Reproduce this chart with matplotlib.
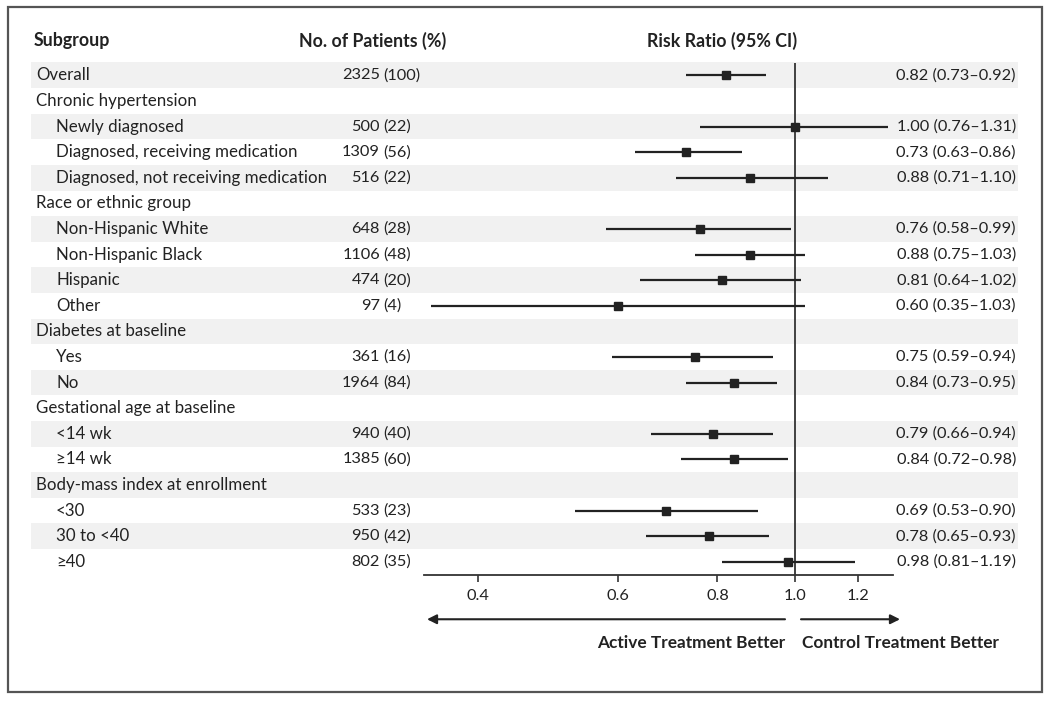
import numpy as np
import matplotlib as mpl
mpl.use("Agg")
import matplotlib.pyplot as plt
import matplotlib.transforms as transforms
from matplotlib.patches import Rectangle

plt.rcParams['font.family'] = ['Lato', 'DejaVu Sans']

# data
labels = ["Overall", "Chronic hypertension", "Newly diagnosed", "Diagnosed, receiving medication",
          "Diagnosed, not receiving medication", "Race or ethnic group", "Non-Hispanic White",
          "Non-Hispanic Black", "Hispanic", "Other", "Diabetes at baseline", "Yes", "No",
          "Gestational age at baseline", "<14 wk", "\u226514 wk", "Body-mass index at enrollment",
          "<30", "30 to <40", "\u226540"]
indent = [0, 0, 1, 1, 1, 0, 1, 1, 1, 1, 0, 1, 1, 0, 1, 1, 0, 1, 1, 1]
n_patients = [2325, None, 500, 1309, 516, None, 648, 1106, 474, 97, None, 361, 1964,
              None, 940, 1385, None, 533, 950, 802]
pct = [100, None, 22, 56, 22, None, 28, 48, 20, 4, None, 16, 84, None, 40, 60, None, 23, 42, 35]
rr = [0.82, None, 1.00, 0.73, 0.88, None, 0.76, 0.88, 0.81, 0.60, None, 0.75, 0.84,
      None, 0.79, 0.84, None, 0.69, 0.78, 0.98]
rr_lo = [0.73, None, 0.76, 0.63, 0.71, None, 0.58, 0.75, 0.64, 0.35, None, 0.59, 0.73,
         None, 0.66, 0.72, None, 0.53, 0.65, 0.81]
rr_hi = [0.92, None, 1.31, 0.86, 1.10, None, 0.99, 1.03, 1.02, 1.03, None, 0.94, 0.95,
         None, 0.94, 0.98, None, 0.90, 0.93, 1.19]
xticks = [0.4, 0.6, 0.8, 1.0, 1.2]
xtick_labels = ["0.4", "0.6", "0.8", "1.0", "1.2"]

W, H = 1050, 702
fs_lab = 12.2     # row labels
fs_num = 11.8     # numbers
fs_head = 12.8    # bold headers
fs_dir = 12.4     # direction labels
tc = '#222222'

def fx(px):
    return px / W

def fy(py):
    return 1 - py / H

fig = plt.figure(figsize=(W / 100, H / 100), dpi=100)

ax = fig.add_axes([fx(424), fy(574.7), fx(893) - fx(424), fy(62.5) - fy(574.7)])
ax.set_xscale('log')
ax.patch.set_visible(False)
for s in ['left', 'right', 'top']:
    ax.spines[s].set_visible(False)
ax.spines['bottom'].set_linewidth(1.3)
ax.spines['bottom'].set_color('#333333')
ax.set_yticks([])
ax.set_xticks(xticks)
ax.set_xticklabels(xtick_labels)
ax.minorticks_off()
ax.tick_params(axis='x', direction='out', length=5, width=1.2, pad=5,
               labelsize=fs_num, colors='#333333', labelcolor=tc)

blend = transforms.blended_transform_factory(fig.transFigure, ax.transData)
nrow = len(labels)

# shaded bands
for i in range(0, nrow, 2):
    ax.add_patch(Rectangle((fx(31), i - 0.5), fx(1018) - fx(31), 1, transform=blend,
                           facecolor='#f1f1f1', edgecolor='none', zorder=0, clip_on=False))

ax.axvline(1.0, color='#333333', lw=1.3, zorder=2)

for i in range(nrow):
    x0 = 36 if indent[i] == 0 else 56
    ax.text(fx(x0), i, labels[i], transform=blend, va='center', ha='left', fontsize=fs_lab, color=tc)
    if rr[i] is None:
        continue
    ax.text(fx(380), i, "%d" % n_patients[i], transform=blend, va='center', ha='right',
            fontsize=fs_num, color=tc)
    ax.text(fx(383.5), i, "(%d)" % pct[i], transform=blend, va='center', ha='left',
            fontsize=fs_num, color=tc)
    ax.text(fx(1016), i, "%.2f (%.2f\u2013%.2f)" % (rr[i], rr_lo[i], rr_hi[i]), transform=blend,
            va='center', ha='right', fontsize=fs_num, color=tc)
    ax.hlines(i, rr_lo[i], rr_hi[i], color=tc, lw=1.6, zorder=3)
    ax.plot(rr[i], i, 's', ms=6.2, color=tc, zorder=4)

ax.set_xlim(0.3426, 1.329)
ax.set_ylim(nrow - 0.5, -0.5)

# headers
hy = -1.34
ax.text(fx(34), hy, "Subgroup", transform=blend, va='center', ha='left', fontsize=fs_head,
        fontweight='bold', color=tc)
ax.text(fx(373), hy, "No. of Patients (%)", transform=blend, va='center', ha='center',
        fontsize=fs_head, fontweight='bold', color=tc)
ax.text(fx(722), hy, "Risk Ratio (95% CI)", transform=blend, va='center', ha='center',
        fontsize=fs_head, fontweight='bold', color=tc)

# direction arrows
ay = 21.24
arrow_kw = dict(arrowstyle='-|>', color=tc, lw=1.5, mutation_scale=14, shrinkA=0, shrinkB=0)
ax.annotate('', xy=(fx(427), ay), xytext=(fx(785), ay), xycoords=blend, textcoords=blend,
            arrowprops=arrow_kw, annotation_clip=False)
ax.annotate('', xy=(fx(900), ay), xytext=(fx(801), ay), xycoords=blend, textcoords=blend,
            arrowprops=arrow_kw, annotation_clip=False)
ly = 22.18
ax.text(fx(785), ly, "Active Treatment Better", transform=blend, va='center', ha='right',
        fontsize=fs_dir, fontweight='bold', color=tc)
ax.text(fx(802), ly, "Control Treatment Better", transform=blend, va='center', ha='left',
        fontsize=fs_dir, fontweight='bold', color=tc)

# outer frame
fig.add_artist(Rectangle((fx(8), fy(692)), fx(1042) - fx(8), fy(7) - fy(692),
                         transform=fig.transFigure, fill=False, edgecolor='#555555', lw=1.6))

fig.savefig('out.png', dpi=100)
